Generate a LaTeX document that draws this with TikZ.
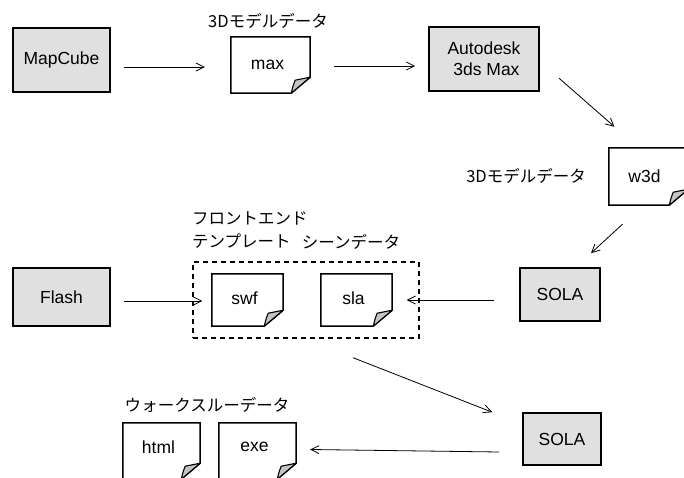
\documentclass[tikz,border=0pt]{standalone}
\usepackage{fontspec}
\setmainfont{Liberation Sans}
\newfontfamily\jp{Noto Sans CJK JP}
\usetikzlibrary{arrows.meta}
\definecolor{boxgray}{HTML}{E0E0E0}
\definecolor{foldgray}{HTML}{C4C4C4}
\tikzset{
  every node/.style={font=\fontsize{17.5}{21}\selectfont},
  tool/.style={draw=black, line width=1.6pt, fill=boxgray, inner sep=0pt},
  docnode/.style={inner sep=0pt, minimum width=78pt, minimum height=56pt},
  docline/.style={draw=black, line width=1.5pt, fill=white, line join=miter},
  foldline/.style={draw=black, line width=1.1pt, fill=foldgray, line join=round},
  arr/.style={draw=black, line width=0.8pt, -{Straight Barb[length=8pt,width=8pt,line width=0.8pt]}},
  grp/.style={draw=black, line width=1.4pt, dash pattern=on 5pt off 4pt, inner sep=0pt},
  lab/.style={font=\jp\fontsize{16.5}{23}\selectfont, inner sep=0pt}
}
\newcommand\docoutline[1]{%
  \path[docline] (#1.north west) -- (#1.north east) -- ([yshift=16pt]#1.south east)
    -- ([xshift=-19pt]#1.south east) -- (#1.south west) -- cycle;
  \path[foldline] ([xshift=-19pt]#1.south east) .. controls ([shift={(-17pt,8pt)}]#1.south east) .. ([shift={(-15pt,13pt)}]#1.south east)
    -- ([yshift=16pt]#1.south east) -- cycle;
}
\begin{document}
\begin{tikzpicture}[x=1pt,y=-1pt]
\useasboundingbox (0,0) rectangle (684,478);
\clip (0,0) rectangle (684,478);
\fill[white] (0,0) rectangle (684,478);

% tool boxes
\node[tool, minimum width=97pt, minimum height=64pt] (mapcube) at (61.5,60) {MapCube};
\node[tool, minimum width=110pt, minimum height=64pt, align=center] (autodesk) at (484,59) {Autodesk\\\ 3ds Max};
\node[tool, minimum width=80pt, minimum height=53pt] (sola1) at (560,294.5) {SOLA};
\node[tool, minimum width=97pt, minimum height=58pt] (flash) at (61.5,297) {Flash};
\node[tool, minimum width=78pt, minimum height=52pt] (sola2) at (562,439) {SOLA};

% group box
\node[grp, minimum width=226pt, minimum height=76pt] (group) at (306,300) {};

% documents
\node[docnode, minimum width=79pt] (maxdoc) at (270.5,65) {};
\docoutline{maxdoc}
\node at ([xshift=-3pt]maxdoc.center) {max};

\node[docnode, minimum width=79pt, minimum height=57pt] (w3d) at (648.5,176.5) {};
\docoutline{w3d}
\node at ([xshift=-4pt]w3d.center) {w3d};

\node[docnode, minimum width=71pt, minimum height=52pt] (swf) at (247.5,300) {};
\docoutline{swf}
\node at ([shift={(-3pt,2pt)}]swf.center) {swf};

\node[docnode, minimum width=71pt, minimum height=52pt] (sla) at (356.5,300) {};
\docoutline{sla}
\node at ([shift={(-3pt,2pt)}]sla.center) {sla};

\node[docnode, minimum width=77pt, minimum height=56pt] (html) at (161.5,451) {};
\docoutline{html}
\node at ([shift={(-3pt,4pt)}]html.center) {html};

\node[docnode, minimum width=77pt, minimum height=56pt] (exe) at (257.5,451) {};
\docoutline{exe}
\node at ([shift={(-3pt,4pt)}]exe.center) {exe};

% labels
\node[lab] (lab1) at (268,21) {3Dモデルデータ};
\node[lab] (lab2) at (526,176) {3Dモデルデータ};
\node[lab, align=left, anchor=west] (lab3) at (192,230) {フロントエンド\\テンプレート};
\node[lab] (lab4) at (351,241.5) {シーンデータ};
\node[lab] (lab5) at (207,405) {ウォークスルーデータ};

% connectors
\draw[arr] ([shift={(13,7)}]mapcube.east) -- ([shift={(-26,2)}]maxdoc.west);
\draw[arr] ([shift={(24,1)}]maxdoc.east) -- ([shift={(-13,7)}]autodesk.west);
\draw[arr] ([shift={(19,19)}]autodesk.east) -- ([shift={(-34,-21)}]w3d.north);
\draw[arr] ([shift={(-26,19)}]w3d.south) -- ([shift={(31,-14)}]sola1.north);
\draw[arr] ([shift={(-25,5.5)}]sola1.west) -- ([shift={(-13,0)}]group.east);
\draw[arr] ([shift={(13,4)}]flash.east) -- ([shift={(10,1)}]group.west);
\draw[arr] ([shift={(47,19)}]group.south) -- ([shift={(-30,0)}]sola2.north west);
\draw[arr] ([shift={(-23,13)}]sola2.west) -- ([shift={(14,-1.5)}]exe.east);
\end{tikzpicture}
\end{document}
